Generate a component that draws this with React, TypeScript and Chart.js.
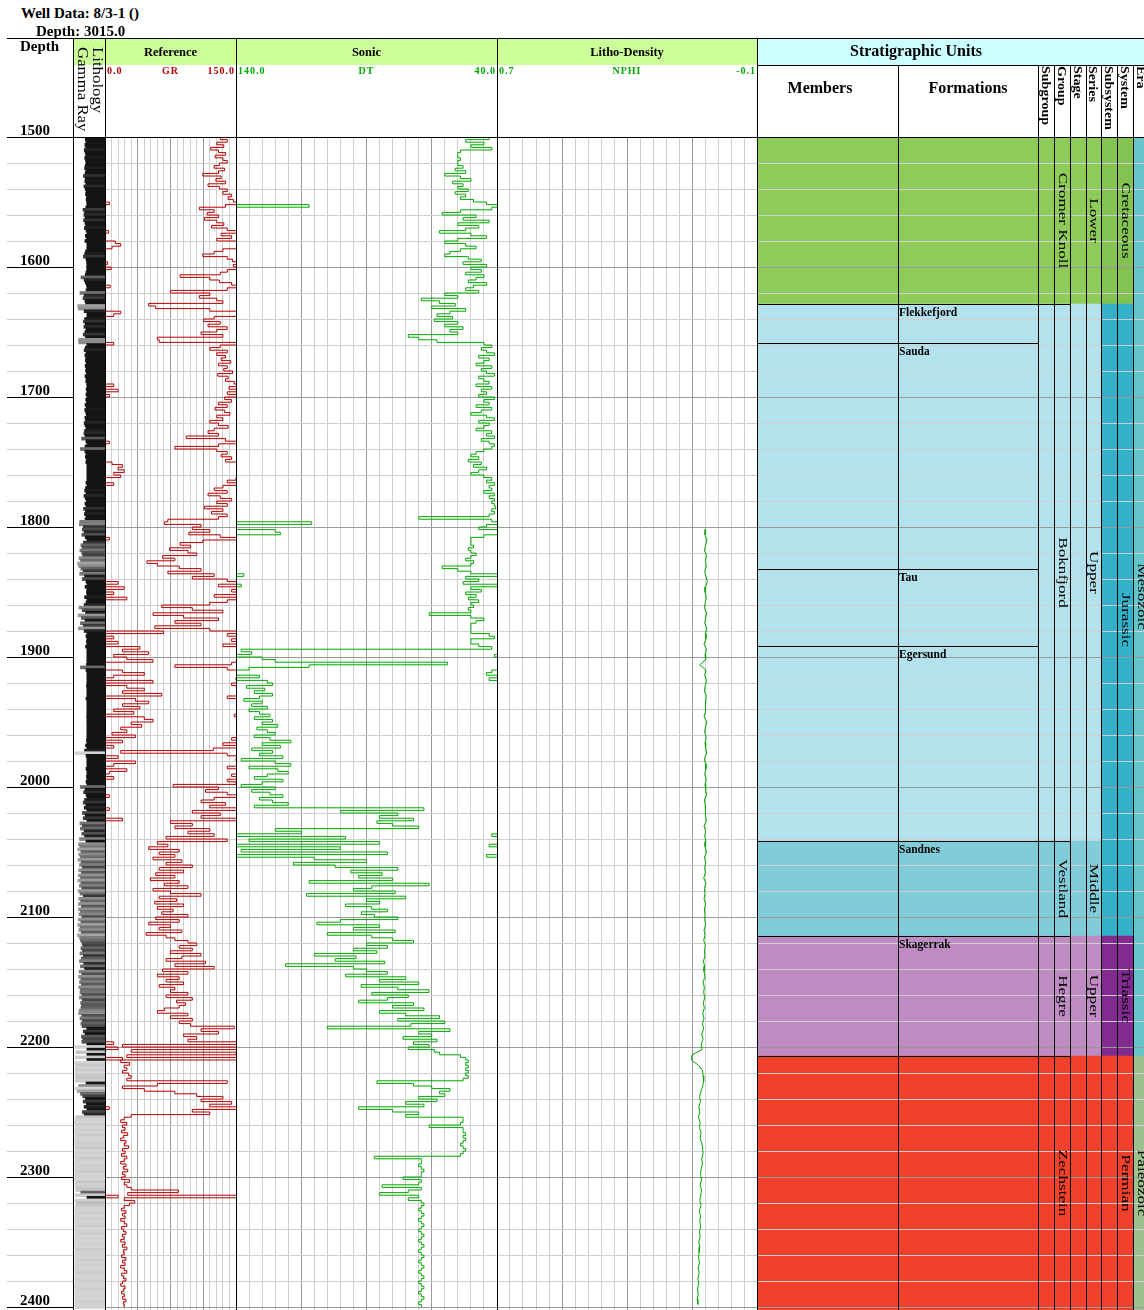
import React, { useEffect, useRef } from "react";
import { Chart, registerables } from "chart.js";

Chart.register(...registerables);

const SERIF = '"Liberation Serif", "Times New Roman", "DejaVu Serif", serif';

// ---------------- data ----------------
const depthMin = 1500;
const depthMax = 2402.3;
const logStep = 2; // metres between GR / DT samples, first sample at depthMin
const depthGridStep = 20;
const depthTickLabels = ["1500", "1600", "1700", "1800", "1900", "2000", "2100", "2200", "2300", "2400"];

// Gamma ray (API), 1500 m .. 2400 m every 2 m
const grValues = [
  138, 132, 140, 128, 136, // 1500
  121, 130, 138, 126, 135, // 1510
  140, 131, 125, 137, 130, // 1520
  112, 133, 127, 138, 118, // 1530
  131, 140, 135, 145, 141, // 1540
  147, 155, 138, 108, 125, // 1550
  117, 130, 114, 128, 136, // 1560
  122, 140, 154, 133, 145, // 1570
  128, 162, 168, 158, 135, // 1580
  125, 112, 140, 146, 153, // 1590
  147, 157, 140, 132, 86, // 1600
  120, 131, 145, 156, 140, // 1610
  75, 120, 108, 128, 135, // 1620
  50, 58, 120, 168, 160, // 1630
  125, 113, 132, 118, 140, // 1640
  128, 110, 135, 60, 62, // 1650
  160, 132, 120, 140, 128, // 1660
  138, 133, 144, 130, 140, // 1670
  136, 146, 129, 141, 138, // 1680
  148, 160, 142, 165, 140, // 1690
  155, 137, 145, 130, 140, // 1700
  126, 137, 143, 128, 135, // 1710
  120, 130, 141, 125, 118, // 1720
  130, 93, 138, 155, 130, // 1730
  80, 128, 140, 133, 145, // 1740
  138, 158, 170, 165, 172, // 1750
  160, 168, 150, 140, 160, // 1760
  135, 125, 140, 118, 132, // 1770
  145, 128, 140, 114, 135, // 1780
  122, 140, 130, 72, 68, // 1790
  110, 100, 120, 96, 132, // 1800
  155, 112, 86, 98, 74, // 1810
  95, 105, 66, 80, 48, // 1820
  60, 85, 110, 72, 125, // 1830
  100, 140, 165, 130, 172, // 1840
  145, 160, 125, 175, 140, // 1850
  120, 65, 100, 135, 55, // 1860
  90, 130, 80, 110, 57, // 1870
  120, 217, 140, 160, 145, // 1880
  165, 135, 190, 170, 200, // 1890
  160, 175, 205, 145, 80, // 1900
  140, 170, 195, 160, 150, // 1910
  205, 145, 175, 195, 170, // 1920
  215, 140, 185, 200, 170, // 1930
  190, 160, 183, 148, 195, // 1940
  205, 180, 192, 168, 175, // 1950
  158, 185, 145, 170, 135, // 1960
  160, 124, 18, 140, 165, // 1970
  150, 185, 160, 140, 175, // 1980
  155, 145, 160, 140, 150, // 1990
  78, 130, 115, 140, 155, // 2000
  125, 110, 138, 120, 155, // 2010
  100, 132, 110, 170, 75, // 2020
  100, 80, 120, 95, 125, // 2030
  70, 140, 60, 72, 50, // 2040
  85, 62, 80, 55, 88, // 2050
  70, 100, 62, 90, 58, // 2060
  80, 52, 85, 68, 95, // 2070
  55, 75, 110, 62, 82, // 2080
  57, 90, 60, 78, 65, // 2090
  95, 58, 85, 50, 75, // 2100
  62, 88, 47, 70, 80, // 2110
  95, 105, 85, 100, 75, // 2120
  110, 88, 70, 115, 80, // 2130
  125, 66, 95, 60, 85, // 2140
  70, 90, 62, 80, 75, // 2150
  95, 70, 100, 82, 92, // 2160
  85, 68, 60, 95, 75, // 2170
  100, 85, 98, 148, 110, // 2180
  130, 90, 105, 95, 160, // 2190
  20, 165, 30, 150, 25, // 2200
  170, 18, 28, 22, 25, // 2210
  20, 27, 30, 25, 140, // 2220
  60, 20, 45, 80, 105, // 2230
  135, 110, 145, 120, 155, // 2240
  100, 120, 30, 22, 18, // 2250
  25, 20, 23, 19, 26, // 2260
  21, 18, 24, 22, 27, // 2270
  20, 23, 19, 25, 22, // 2280
  18, 24, 21, 26, 20, // 2290
  23, 19, 28, 22, 25, // 2300
  30, 84, 26, 165, 22, // 2310
  34, 28, 22, 19, 24, // 2320
  20, 23, 18, 22, 25, // 2330
  19, 21, 24, 20, 22, // 2340
  18, 23, 20, 25, 21, // 2350
  22, 19, 24, 20, 23, // 2360
  18, 22, 25, 19, 21, // 2370
  24, 20, 18, 23, 21, // 2380
  19, 22, 20, 24, 21, // 2390
  22, // 2400
];

// Sonic DT (us/ft), 1500 m .. 2400 m every 2 m
const dtValues = [
  48, 43, 52, 45, 50, // 1500
  42, 54, 55, 55, 54, // 1510
  55, 55, 53, 56, 52, // 1520
  60, 54, 50, 57, 53, // 1530
  55, 51, 56, 52, 54, // 1540
  49, 44, 12, 42, 54, // 1550
  61, 48, 53, 43, 55, // 1560
  47, 52, 62, 50, 44, // 1570
  55, 60, 52, 48, 54, // 1580
  58, 60, 51, 46, 53, // 1590
  44, 50, 46, 52, 45, // 1600
  48, 51, 44, 49, 52, // 1610
  47, 60, 55, 69, 62, // 1620
  56, 65, 52, 58, 63, // 1630
  57, 64, 55, 60, 53, // 1640
  58, 55, 74, 70, 63, // 1650
  45, 42, 46, 44, 41, // 1660
  47, 43, 45, 48, 42, // 1670
  46, 44, 41, 47, 45, // 1680
  43, 48, 42, 46, 44, // 1690
  47, 41, 45, 43, 48, // 1700
  42, 46, 50, 44, 41, // 1710
  47, 43, 45, 48, 42, // 1720
  44, 41, 46, 43, 41, // 1730
  42, 45, 48, 50, 47, // 1740
  51, 46, 49, 44, 47, // 1750
  50, 45, 42, 44, 41, // 1760
  43, 42, 45, 41, 43, // 1770
  41, 42, 41, 40.5, 42, // 1780
  41, 43, 70, 42, 11, // 1790
  44, 47, 25, 23, 45, // 1800
  50, 50, 50, 49, 51, // 1810
  50, 48, 50, 52, 49, // 1820
  50, 61, 55, 50, 37, // 1830
  52, 47, 53, 38, 50, // 1840
  46, 52, 48, 51, 47, // 1850
  50, 49, 51, 50, 66, // 1860
  50, 45, 48, 50, 50, // 1870
  50, 50, 43, 41, 50, // 1880
  50, 47, 42, 138, 134, // 1890
  141, 130, 125, 59, 112, // 1900
  135, 142, 144, 131, 143, // 1910
  128, 126, 136, 129, 133, // 1920
  126, 131, 137, 130, 134, // 1930
  128, 135, 131, 127, 133, // 1940
  126, 130, 124, 132, 128, // 1950
  125, 133, 127, 119, 130, // 1960
  123, 134, 126, 131, 122, // 1970
  138, 125, 119, 135, 124, // 1980
  120, 128, 133, 122, 130, // 1990
  138, 125, 134, 127, 122, // 2000
  131, 126, 120, 133, 68, // 2010
  100, 78, 85, 72, 86, // 2020
  80, 70, 125, 115, 142, // 2030
  98, 135, 85, 143, 100, // 2040
  138, 82, 144, 110, 90, // 2050
  118, 102, 78, 96, 84, // 2060
  93, 80, 112, 66, 88, // 2070
  95, 79, 113, 75, 90, // 2080
  85, 98, 88, 82, 92, // 2090
  87, 78, 100, 109, 85, // 2100
  95, 79, 105, 88, 80, // 2110
  72, 90, 82, 95, 86, // 2120
  110, 94, 102, 83, 121, // 2130
  95, 90, 82, 98, 75, // 2140
  85, 70, 92, 78, 66, // 2150
  88, 74, 82, 93, 72, // 2160
  80, 68, 85, 75, 62, // 2170
  78, 60, 73, 105, 58, // 2180
  70, 65, 76, 63, 72, // 2190
  66, 74, 64, 62, 54, // 2200
  52, 51, 52, 51, 52, // 2210
  51, 52, 51, 53, 86, // 2220
  72, 65, 58, 62, 60, // 2230
  70, 63, 75, 68, 93, // 2240
  80, 70, 75, 53, 53, // 2250
  54, 66, 53, 53, 52, // 2260
  53, 52, 53, 54, 53, // 2270
  52, 53, 54, 87, 69, // 2280
  69, 70, 69, 68, 69, // 2290
  69, 76, 69, 70, 84, // 2300
  69, 74, 85, 70, 74, // 2310
  69, 68, 69, 70, 69, // 2320
  68, 69, 70, 69, 68, // 2330
  69, 70, 69, 68, 69, // 2340
  70, 69, 68, 69, 70, // 2350
  69, 68, 69, 70, 69, // 2360
  68, 69, 70, 69, 68, // 2370
  69, 70, 69, 68, 69, // 2380
  70, 69, 68, 69, 70, // 2390
  69, // 2400
];

// Neutron porosity NPHI (v/v), from 1802 m every 4 m
const nphiStart = 1802;
const nphiStep = 4;
const nphiValues = [
  0.057, 0.060, 0.054, 0.058, 0.062, // 1802
  0.055, 0.059, 0.056, 0.061, 0.057, // 1822
  0.053, 0.058, 0.060, 0.056, 0.059, // 1842
  0.062, 0.055, 0.058, 0.061, 0.054, // 1862
  0.059, 0.057, 0.063, 0.055, 0.060, // 1882
  0.058, 0.076, 0.057, 0.061, 0.055, // 1902
  0.059, 0.062, 0.056, 0.058, 0.060, // 1922
  0.057, 0.063, 0.054, 0.059, 0.061, // 1942
  0.056, 0.060, 0.058, 0.055, 0.062, // 1962
  0.059, 0.057, 0.061, 0.056, 0.060, // 1982
  0.058, 0.055, 0.062, 0.059, 0.057, // 2002
  0.060, 0.056, 0.063, 0.058, 0.061, // 2022
  0.057, 0.060, 0.055, 0.062, 0.058, // 2042
  0.061, 0.059, 0.064, 0.057, 0.062, // 2062
  0.060, 0.063, 0.058, 0.062, 0.060, // 2082
  0.061, 0.058, 0.063, 0.060, 0.064, // 2102
  0.059, 0.062, 0.060, 0.065, 0.061, // 2122
  0.063, 0.060, 0.066, 0.062, 0.064, // 2142
  0.061, 0.065, 0.062, 0.067, 0.063, // 2162
  0.068, 0.064, 0.070, 0.066, 0.072, // 2182
  0.069, 0.100, 0.102, 0.080, 0.068, // 2202
  0.066, 0.064, 0.067, 0.072, 0.077, // 2222
  0.074, 0.079, 0.076, 0.080, 0.075, // 2242
  0.077, 0.072, 0.075, 0.070, 0.067, // 2262
  0.066, 0.070, 0.068, 0.072, 0.074, // 2282
  0.070, 0.075, 0.071, 0.073, 0.076, // 2302
  0.072, 0.078, 0.074, 0.076, 0.073, // 2322
  0.077, 0.075, 0.079, 0.076, 0.078, // 2342
  0.080, 0.077, 0.081, 0.078, 0.082, // 2362
  0.079, 0.083, 0.081, 0.084, 0.082, // 2382
];

// track scales
const grMin = 0;
const grMax = 150;
const dtLeft = 140;
const dtRight = 40;
const nphiLeft = 0.7;
const nphiRight = -0.1;

// stratigraphy
const unitBase = 2402.3;
const formationTops = [1500, 1628.5, 1658.5, 1832.3, 1891.5, 2041.5, 2114.6, 2207];
const formationNames = ["", "Flekkefjord", "Sauda", "Tau", "Egersund", "Sandnes", "Skagerrak", ""];
const groupTops = [1500, 1628.5, 2041.5, 2114.6, 2207];
const groupNames = ["Cromer Knoll", "Boknfjord", "Vestland", "Hegre", "Zechstein"];
const seriesTops = [1500, 1628.5, 2041.5, 2114.6, 2207];
const seriesNames = ["Lower", "Upper", "Middle", "Upper", ""];
const systemTops = [1500, 1628.5, 2114.6, 2207];
const systemNames = ["Cretaceous", "Jurassic", "Triassic", "Permian"];
const eraTops = [1500, 2207];
const eraNames = ["Mesozoic", "Paleozoic"];

// ---------------- styles ----------------
const GR_COLOR = "#b40000";
const GREEN_CURVE = "#00a800";
const MINOR = "#cfcfcf";
const MAJOR = "#9a9a9a";
const BAND_GREEN = "#ccff99";
const BAND_CYAN = "#ccffff";

const C_GREEN = "#8fcb58";
const C_GREEN2 = "#83c351";
const C_LBLUE = "#b3e2ed";
const C_MBLUE = "#80ccd8";
const C_LILAC = "#bf8bc3";
const C_RED = "#f0412a";
const C_JUR = "#35b0c9";
const C_PURPLE = "#812b90";
const C_TEAL = "#66c5cb";
const C_PALEO = "#9cc18c";

const formationColors = [C_GREEN, C_LBLUE, C_LBLUE, C_LBLUE, C_LBLUE, C_MBLUE, C_LILAC, C_RED];
const groupColors = [C_GREEN, C_LBLUE, C_MBLUE, C_LILAC, C_RED];
const seriesColors = [C_GREEN, C_LBLUE, C_MBLUE, C_LILAC, C_RED];
const systemColors = [C_GREEN2, C_JUR, C_PURPLE, C_RED];
const eraColors = [C_TEAL, C_PALEO];

const VSTRETCH = 1.37;

// strat columns, px offsets inside the strat panel
const stratColumns = [
  { tops: formationTops, colors: formationColors, from: 0, to: 141 },
  { tops: formationTops, colors: formationColors, from: 141, to: 281 },
  { tops: groupTops, colors: groupColors, from: 281, to: 297 },
  { tops: groupTops, colors: groupColors, from: 297, to: 313 },
  { tops: seriesTops, colors: seriesColors, from: 313, to: 329 },
  { tops: seriesTops, colors: seriesColors, from: 329, to: 344 },
  { tops: systemTops, colors: systemColors, from: 344, to: 360 },
  { tops: systemTops, colors: systemColors, from: 360, to: 376 },
  { tops: eraTops, colors: eraColors, from: 376, to: 392 },
];

// ---------------- helpers ----------------
const logDepth = (i: number) => depthMin + i * logStep;

function intervals(tops: number[]) {
  return tops.map((t, i) => ({ from: t, to: i + 1 < tops.length ? tops[i + 1] : unitBase }));
}

function evenTicks(min: number, max: number, n: number) {
  return (axis: any) => {
    axis.ticks = Array.from({ length: n + 1 }, (_, i) => ({ value: min + ((max - min) * i) / n }));
  };
}

function depthTicks(axis: any) {
  const t: any[] = [];
  for (let d = depthMin; d <= 2400; d += depthGridStep) t.push({ value: d });
  axis.ticks = t;
}

const gridColor = (c: any) => (c.index % 5 === 0 ? MAJOR : MINOR);

function depthScale(z = 0) {
  return {
    type: "linear",
    min: depthMin,
    max: depthMax,
    reverse: true,
    stacked: false,
    offset: false,
    afterBuildTicks: depthTicks,
    ticks: { display: false },
    border: { display: false },
    grid: { drawTicks: false, offset: false, z, color: gridColor, lineWidth: 1 },
  };
}

function valueScale(min: number, max: number, reverse: boolean) {
  return {
    type: "linear",
    min,
    max,
    reverse,
    offset: false,
    afterBuildTicks: evenTicks(min, max, 20),
    ticks: { display: false },
    border: { display: false },
    grid: { drawTicks: false, offset: false, color: gridColor, lineWidth: 1 },
  };
}

const baseOptions = {
  responsive: false,
  animation: false,
  events: [],
  layout: { padding: 0 },
  plugins: { legend: { display: false }, tooltip: { enabled: false } },
};

const lineStyle = { borderWidth: 1, pointRadius: 0, fill: false, tension: 0 };
const logStyle = { ...lineStyle, stepped: true };

// ---------------- chart configs ----------------
const lithoMax = 345;
function lithoShade(v: number) {
  const g = Math.round(Math.max(20, Math.min(212, 20 + ((130 - v) / 110) * 192)));
  return `rgb(${g},${g},${g})`;
}

const depthColumnPlugin = {
  id: "depthColumn",
  afterDraw(chart: any) {
    const { ctx, chartArea } = chart;
    const y = chart.scales.y;
    ctx.save();
    ctx.lineWidth = 1;
    for (let d = depthMin; d <= 2400; d += depthGridStep) {
      const py = Math.round(y.getPixelForValue(d)) + 0.5;
      ctx.strokeStyle = (d - depthMin) % 100 === 0 ? "#000" : MINOR;
      ctx.beginPath();
      ctx.moveTo(0, py);
      ctx.lineTo(chartArea.left, py);
      ctx.stroke();
    }
    ctx.fillStyle = "#000";
    ctx.font = `bold 15px ${SERIF}`;
    ctx.textAlign = "left";
    ctx.textBaseline = "alphabetic";
    depthTickLabels.forEach((lab) => {
      const py = y.getPixelForValue(Number(lab));
      ctx.fillText(lab, 13, py - 2);
    });
    ctx.restore();
  },
};

const lithoConfig = () => ({
  type: "bar",
  data: {
    datasets: [
      {
        data: grValues.map((v, i) => ({ y: logDepth(i), x: [Math.max(grMin, Math.min(grMax, v)), lithoMax] })),
        backgroundColor: grValues.map((v) => lithoShade(v)),
        borderWidth: 0,
        barThickness: 3,
      },
    ],
  },
  options: {
    ...baseOptions,
    indexAxis: "y",
    layout: { padding: { left: 66, top: 20, right: 0, bottom: 0 } },
    scales: {
      x: { type: "linear", min: 0, max: lithoMax, display: false, offset: false },
      y: { type: "linear", min: depthMin, max: depthMax, reverse: true, display: false, offset: false, grid: { offset: false } },
    },
  },
  plugins: [depthColumnPlugin],
});

const grConfig = () => ({
  type: "line",
  data: {
    datasets: [
      { data: grValues.map((v, i) => ({ x: v, y: logDepth(i) })), borderColor: GR_COLOR, ...logStyle },
      // wrap-around of values beyond the right edge
      { data: grValues.map((v, i) => ({ x: v - (grMax - grMin), y: logDepth(i) })), borderColor: GR_COLOR, ...logStyle },
    ],
  },
  options: { ...baseOptions, indexAxis: "y", scales: { x: valueScale(grMin, grMax, false), y: depthScale() } },
});

const dtRange = dtLeft - dtRight;
const dtConfig = () => ({
  type: "line",
  data: {
    datasets: [
      { data: dtValues.map((v, i) => ({ x: v, y: logDepth(i) })), borderColor: GREEN_CURVE, ...logStyle },
      { data: dtValues.map((v, i) => ({ x: v + dtRange, y: logDepth(i) })), borderColor: GREEN_CURVE, ...logStyle },
      { data: dtValues.map((v, i) => ({ x: v - dtRange, y: logDepth(i) })), borderColor: GREEN_CURVE, ...logStyle },
    ],
  },
  options: { ...baseOptions, indexAxis: "y", scales: { x: valueScale(dtRight, dtLeft, true), y: depthScale() } },
});

const nphiConfig = () => ({
  type: "line",
  data: {
    datasets: [
      {
        data: nphiValues.map((v, i) => ({ x: v, y: nphiStart + i * nphiStep })),
        borderColor: GREEN_CURVE,
        ...lineStyle,
      },
    ],
  },
  options: { ...baseOptions, indexAxis: "y", scales: { x: valueScale(nphiRight, nphiLeft, true), y: depthScale() } },
});

function drawRotated(ctx: any, text: string, cx: number, cy: number) {
  if (!text) return;
  ctx.save();
  ctx.translate(cx, cy);
  ctx.rotate(Math.PI / 2);
  ctx.scale(VSTRETCH, 1);
  ctx.textAlign = "center";
  ctx.textBaseline = "middle";
  ctx.fillText(text, 0, 0);
  ctx.restore();
}

const stratPlugin = {
  id: "stratText",
  afterDraw(chart: any) {
    const { ctx } = chart;
    const { x, y } = chart.scales;
    const members = stratColumns[0];
    const formations = stratColumns[1];
    const subgroup = stratColumns[2];
    const group = stratColumns[3];
    const series = stratColumns[5];
    const system = stratColumns[7];
    const era = stratColumns[8];
    ctx.save();
    ctx.strokeStyle = "#000";
    ctx.lineWidth = 1;
    const hline = (d: number, a: number, b: number) => {
      const py = Math.round(y.getPixelForValue(d)) + 0.5;
      ctx.beginPath();
      ctx.moveTo(x.getPixelForValue(a), py);
      ctx.lineTo(x.getPixelForValue(b), py);
      ctx.stroke();
    };
    formationTops.slice(1).forEach((t) => hline(t, members.from, formations.to));
    groupTops.slice(1).forEach((t) => hline(t, subgroup.from, group.to));

    ctx.fillStyle = "#000";
    ctx.font = `bold 11.5px ${SERIF}`;
    ctx.textAlign = "left";
    ctx.textBaseline = "top";
    formationTops.forEach((t, i) => {
      if (formationNames[i]) ctx.fillText(formationNames[i], x.getPixelForValue(formations.from) + 1, y.getPixelForValue(t) + 3);
    });

    ctx.font = `12.5px ${SERIF}`;
    const rotated = (tops: number[], names: string[], col: any) => {
      intervals(tops).forEach((iv, i) => {
        const cy = (y.getPixelForValue(iv.from) + y.getPixelForValue(iv.to)) / 2;
        drawRotated(ctx, names[i], x.getPixelForValue((col.from + col.to) / 2), cy);
      });
    };
    rotated(groupTops, groupNames, group);
    rotated(seriesTops, seriesNames, series);
    rotated(systemTops, systemNames, system);
    rotated(eraTops, eraNames, era);
    ctx.restore();
  },
};

const stratConfig = () => ({
  type: "bar",
  data: {
    datasets: stratColumns.map((col) => ({
      data: intervals(col.tops).map((iv) => ({ x: (col.from + col.to) / 2, y: [iv.from, iv.to] })),
      backgroundColor: col.colors,
      borderWidth: 0,
      barThickness: col.to - col.from + 1,
      stack: "strat",
    })),
  },
  options: {
    ...baseOptions,
    scales: {
      x: { type: "linear", min: 0, max: 387, display: false, offset: false, grid: { offset: false } },
      y: depthScale(1),
    },
  },
  plugins: [stratPlugin],
});

// ---------------- components ----------------
function ChartCanvas(props: { left: number; top: number; width: number; height: number; config: () => any }) {
  const ref = useRef<HTMLCanvasElement | null>(null);
  useEffect(() => {
    if (!ref.current) return;
    const chart = new Chart(ref.current, props.config());
    return () => chart.destroy();
  }, []);
  return (
    <canvas
      ref={ref}
      width={props.width}
      height={props.height}
      style={{ position: "absolute", left: props.left, top: props.top, width: props.width, height: props.height }}
    />
  );
}

const abs = (left: number, top: number, width: number, height: number, extra: any = {}) => ({
  position: "absolute" as const,
  left,
  top,
  width,
  height,
  ...extra,
});

function Rule({ x, y, w, h }: { x: number; y: number; w: number; h: number }) {
  return <div style={abs(x, y, w, h, { background: "#000" })} />;
}

function VText({ cx, top, lines, size, lineHeight, bold, stretch }: any) {
  const n = lines.length;
  return (
    <div
      style={{
        position: "absolute",
        left: cx + (n * lineHeight) / 2,
        top,
        whiteSpace: "nowrap",
        fontSize: size,
        lineHeight: `${lineHeight}px`,
        fontWeight: bold ? "bold" : "normal",
        transformOrigin: "0 0",
        transform: `rotate(90deg) scaleX(${stretch})`,
      }}
    >
      {lines.map((l: string, i: number) => (
        <div key={i}>{l}</div>
      ))}
    </div>
  );
}

function ScaleRow({ left, width, lo, name, hi, color }: any) {
  const st = { position: "absolute" as const, top: 65, fontSize: 10, fontWeight: "bold", letterSpacing: 1, color, lineHeight: "11px", whiteSpace: "nowrap" as const };
  return (
    <>
      <div style={{ ...st, left: left + 2 }}>{lo}</div>
      <div style={{ ...st, left, width, textAlign: "center" }}>{name}</div>
      <div style={{ ...st, left, width: width - 1, textAlign: "right" }}>{hi}</div>
    </>
  );
}

function TrackTitle({ left, width, text }: any) {
  return (
    <div style={{ position: "absolute", left, width, top: 46, textAlign: "center", fontSize: 12.5, fontWeight: "bold", lineHeight: "12px" }}>
      {text}
    </div>
  );
}

export default function App() {
  const stratX = 757;
  const colLines = [898, 1038, 1054, 1070, 1086, 1101, 1117, 1133];
  const narrowHeads = [
    { cx: 1046, t: "Subgroup" },
    { cx: 1062, t: "Group" },
    { cx: 1078, t: "Stage" },
    { cx: 1093.5, t: "Series" },
    { cx: 1109, t: "Subsystem" },
    { cx: 1125, t: "System" },
    { cx: 1141, t: "Era" },
  ];
  return (
    <div style={abs(0, 0, 1144, 1310, { overflow: "hidden", background: "#fff", fontFamily: SERIF, color: "#000" })}>
      <div style={abs(73, 39, 684, 26, { background: BAND_GREEN })} />
      <div style={abs(stratX, 39, 387, 26, { background: BAND_CYAN })} />

      <ChartCanvas left={7} top={117} width={98} height={1193} config={lithoConfig} />
      <ChartCanvas left={105} top={137} width={131} height={1173} config={grConfig} />
      <ChartCanvas left={236} top={137} width={261} height={1173} config={dtConfig} />
      <ChartCanvas left={497} top={137} width={260} height={1173} config={nphiConfig} />
      <ChartCanvas left={stratX} top={137} width={387} height={1173} config={stratConfig} />

      {/* frame */}
      <Rule x={7} y={38} w={1137} h={1} />
      <Rule x={73} y={137} w={1071} h={1} />
      <Rule x={stratX} y={65} w={387} h={1} />
      {[73, 105, 236, 497, 757].map((x) => (
        <Rule key={x} x={x} y={38} w={1} h={1272} />
      ))}
      {colLines.map((x) => (
        <Rule key={x} x={x} y={65} w={1} h={1245} />
      ))}

      {/* titles */}
      <div style={{ position: "absolute", left: 21, top: 6, fontSize: 15, fontWeight: "bold", lineHeight: "15px", whiteSpace: "nowrap" }}>
        Well Data: 8/3-1 ()
      </div>
      <div style={{ position: "absolute", left: 36, top: 24, fontSize: 15, fontWeight: "bold", lineHeight: "15px", whiteSpace: "nowrap" }}>
        Depth: 3015.0
      </div>
      <div style={{ position: "absolute", left: 20, top: 39, fontSize: 15, fontWeight: "bold", lineHeight: "15px" }}>Depth</div>

      <VText cx={89.5} top={47} lines={["Lithology", "Gamma Ray"]} size={14} lineHeight={15} stretch={1.2} />

      <TrackTitle left={105} width={131} text="Reference" />
      <TrackTitle left={236} width={261} text="Sonic" />
      <TrackTitle left={497} width={260} text="Litho-Density" />
      <ScaleRow left={105} width={131} lo="0.0" name="GR" hi="150.0" color={GR_COLOR} />
      <ScaleRow left={236} width={261} lo="140.0" name="DT" hi="40.0" color={GREEN_CURVE} />
      <ScaleRow left={497} width={260} lo="0.7" name="NPHI" hi="-0.1" color={GREEN_CURVE} />

      <div style={{ position: "absolute", left: stratX, width: 318, top: 43, textAlign: "center", fontSize: 16, fontWeight: "bold", lineHeight: "16px", whiteSpace: "nowrap" }}>
        Stratigraphic Units
      </div>
      <div style={{ position: "absolute", left: 770, width: 100, top: 80, textAlign: "center", fontSize: 16, fontWeight: "bold", lineHeight: "16px" }}>
        Members
      </div>
      <div style={{ position: "absolute", left: 898, width: 140, top: 80, textAlign: "center", fontSize: 16, fontWeight: "bold", lineHeight: "16px" }}>
        Formations
      </div>
      {narrowHeads.map((h) => (
        <VText key={h.t} cx={h.cx} top={66} lines={[h.t]} size={13} lineHeight={15} bold stretch={1.08} />
      ))}
    </div>
  );
}
